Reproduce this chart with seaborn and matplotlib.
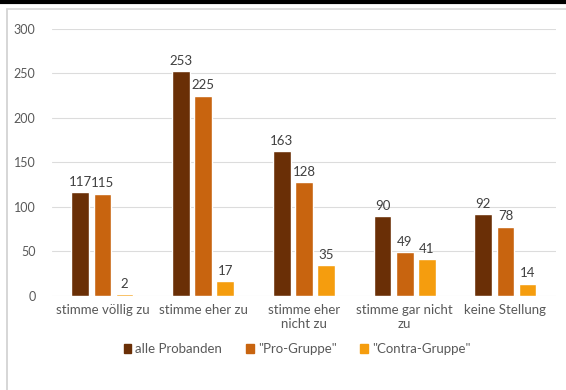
import matplotlib
matplotlib.use("Agg")
import matplotlib.pyplot as plt
import seaborn as sns
import pandas as pd
from matplotlib.patches import Rectangle
from matplotlib.lines import Line2D

categories = ["stimme völlig zu", "stimme eher zu", "stimme eher\nnicht zu",
              "stimme gar nicht\nzu", "keine Stellung"]
groups = ["alle Probanden", "\"Pro-Gruppe\"", "\"Contra-Gruppe\""]
alle = [117, 253, 163, 90, 92]
pro = [115, 225, 128, 49, 78]
contra = [2, 17, 35, 41, 14]
yticks = [0, 50, 100, 150, 200, 250, 300]

colors = ["#6a2f06", "#c8640f", "#f59d0e"]

rows = []
for g, vals in zip(groups, [alle, pro, contra]):
    for c, v in zip(categories, vals):
        rows.append({"Kategorie": c, "Gruppe": g, "Anzahl": v})
df = pd.DataFrame(rows)

sns.set_theme(style="white")
plt.rcParams["font.family"] = ["Lato", "DejaVu Sans"]
text_col = "#595959"

fig = plt.figure(figsize=(5.66, 3.9), dpi=100)
ax = fig.add_axes([0.092, 0.241, 0.89, 0.685])

sns.barplot(data=df, x="Kategorie", y="Anzahl", hue="Gruppe",
            palette=colors, width=0.66, gap=0.2, ax=ax, legend=False,
            saturation=1, errorbar=None)

for cont in ax.containers:
    ax.bar_label(cont, padding=3, fontsize=9.5, color="#404040")

ax.set_ylim(0, 300)
ax.set_yticks(yticks)
ax.set_xlim(-0.5, 4.5)
ax.grid(axis="y", color="#dcdcdc", linewidth=0.8)
ax.set_axisbelow(True)
for s in ax.spines.values():
    s.set_visible(False)
ax.set_xlabel("")
ax.set_ylabel("")
ax.tick_params(axis="y", labelsize=9, colors=text_col, pad=12, length=0)
ax.tick_params(axis="x", labelsize=9.5, colors=text_col, pad=6, length=0)

handles = [Rectangle((0, 0), 1, 1, color=c) for c in colors]
fig.legend(handles, groups, loc="center", bbox_to_anchor=(0.525, 0.105),
           ncol=3, frameon=False, fontsize=9.5, handlelength=0.6,
           handleheight=0.6, handletextpad=0.3, columnspacing=1.8,
           labelcolor=text_col)

# outer frame
fig.add_artist(Line2D([0, 1], [0.996, 0.996], color="black", lw=3,
                      transform=fig.transFigure))
fig.add_artist(Line2D([0.012, 0.012], [0, 0.977], color="#d0d0d0", lw=1.2,
                      transform=fig.transFigure))
fig.add_artist(Line2D([0.012, 1], [0.977, 0.977], color="#d8d8d8", lw=1.2,
                      transform=fig.transFigure))

fig.savefig("out.png", dpi=100)
